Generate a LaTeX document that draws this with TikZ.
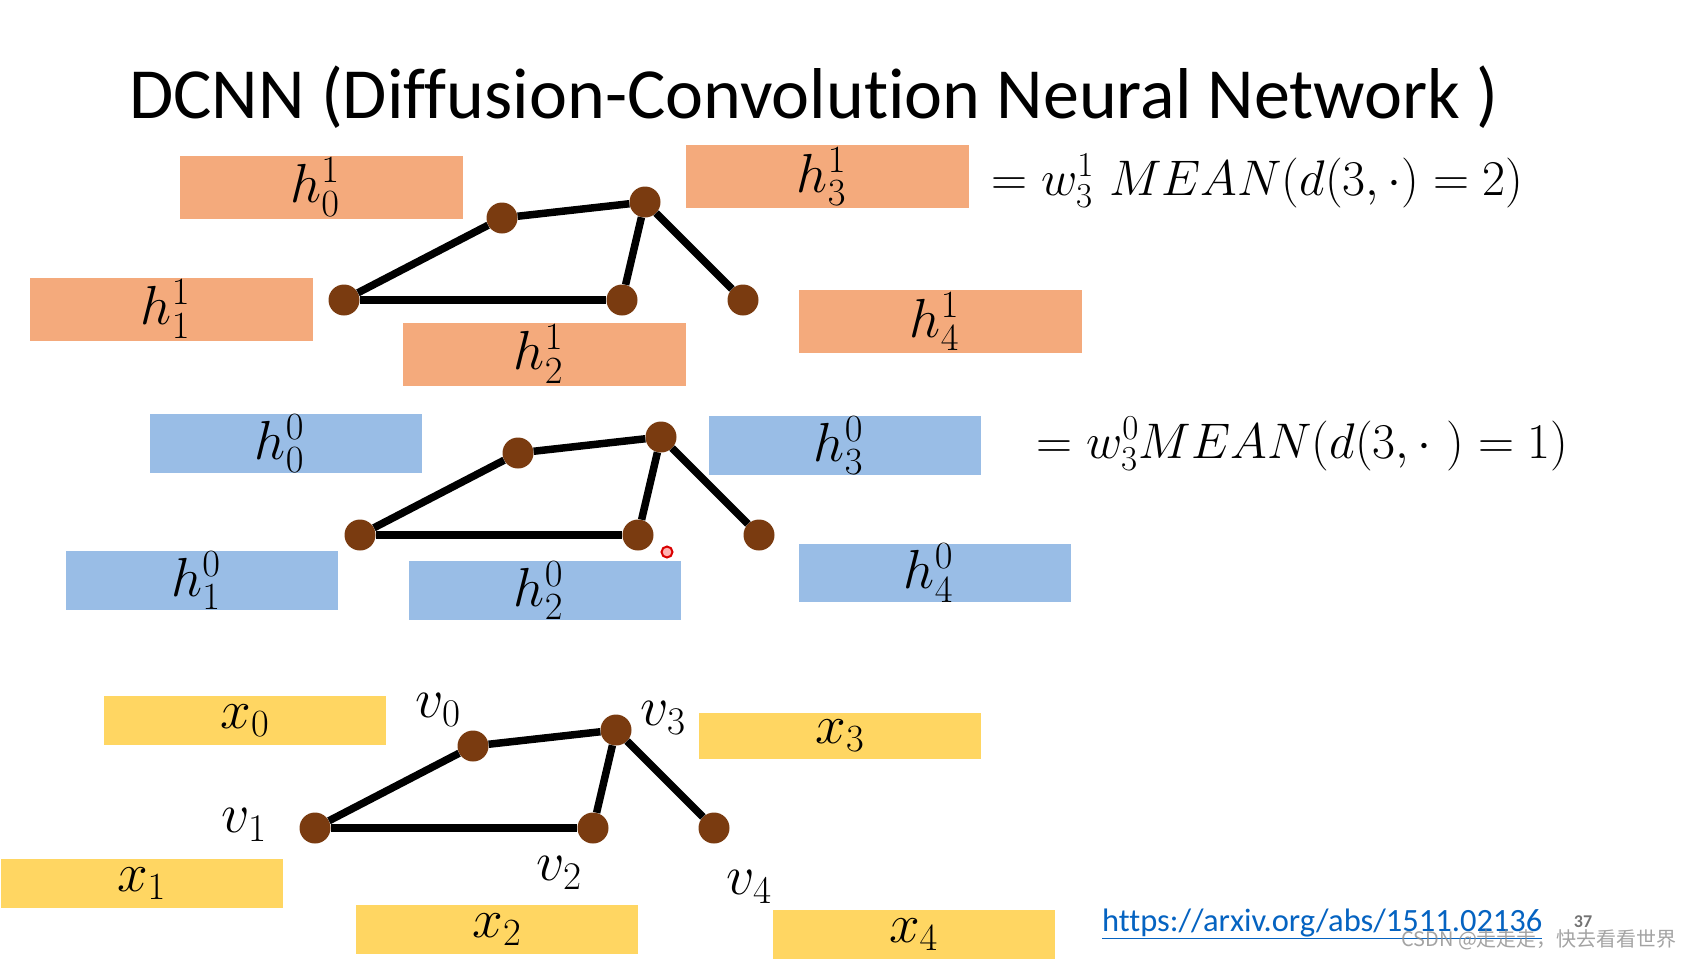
\RequirePackage{fix-cm}
\documentclass[tikz,border=0pt]{standalone}
\usepackage{fontspec}
\newfontfamily\calibri[Ligatures=NoCommon]{Carlito}
\newfontfamily\cjk{Noto Sans CJK SC}
\definecolor{boxorange}{HTML}{F4AA7C}
\definecolor{boxblue}{HTML}{99BDE6}
\definecolor{boxyellow}{HTML}{FFD662}
\definecolor{nodebrown}{HTML}{7A3B10}
\definecolor{linkblue}{HTML}{0563C1}
\newcommand\mygraph[3]{%
  \begin{scope}[shift={(#2,#3)}]
    \node[vert] (#1n0) at (502,218) {};
    \node[vert] (#1n3) at (645,202) {};
    \node[vert] (#1n1) at (344,300) {};
    \node[vert] (#1n2) at (622,300) {};
    \node[vert] (#1n4) at (743,300) {};
    \draw[gedge] (#1n1) -- (#1n0);
    \draw[gedge] (#1n0) -- (#1n3);
    \draw[gedge] (#1n1) -- (#1n2);
    \draw[gedge] (#1n2) -- (#1n3);
    \draw[gedge] (#1n3) -- (#1n4);
  \end{scope}}
\begin{document}
\begin{tikzpicture}[x=1pt,y=-1pt,
  basebox/.style={inner sep=0pt, font=\fontsize{55}{60}\selectfont},
  obox/.style={basebox, fill=boxorange, minimum width=283pt, minimum height=63pt},
  bbox/.style={basebox, fill=boxblue, minimum width=272pt, minimum height=57pt},
  ybox/.style={basebox, fill=boxyellow, minimum width=282pt, minimum height=49pt},
  vert/.style={circle, fill=nodebrown, minimum size=31pt, inner sep=0pt},
  gedge/.style={line width=7.5pt, black},
  vlbl/.style={inner sep=0pt, font=\fontsize{56}{60}\selectfont},
  eqn/.style={inner sep=0pt, anchor=west, font=\fontsize{50}{60}\selectfont}]
\useasboundingbox (0,0) rectangle (1686,959);

\node[inner sep=0pt, anchor=base, font=\calibri\fontsize{72}{80}\selectfont] (title) at (814,118)
  {DCNN (Diffusion-Convolution Neural Network )};

% orange boxes
\node[obox] (h01) at (321,187) {$h_0^1$\hspace*{12pt}};
\node[obox] (h31) at (827.5,176.5) {$h_3^1$\hspace*{12pt}};
\node[obox] (h11) at (171.5,309) {$h_1^1$\hspace*{12pt}};
\node[obox] (h21) at (544.5,354) {$h_2^1$\hspace*{12pt}};
\node[obox] (h41) at (940.5,321.5) {$h_4^1$\hspace*{12pt}};

% blue boxes
\node[bbox] (h00) at (285.5,443.5) {$h_0^0$\hspace*{12pt}};
\node[bbox] (h30) at (844.5,445.5) {$h_3^0$\hspace*{12pt}};
\node[bbox] (h10) at (202,580.5) {$h_1^0$\hspace*{12pt}};
\node[bbox] (h20) at (544.5,590.5) {$h_2^0$\hspace*{12pt}};
\node[bbox] (h40) at (934.5,573) {$h_4^0$\hspace*{12pt}};

% yellow boxes
\node[ybox] (x0) at (245,720.5) {$x_0$};
\node[ybox, minimum height=46pt] (x3) at (840,736) {$x_3$};
\node[ybox] (x1) at (141.5,883.5) {$x_1$};
\node[ybox] (x2) at (497,929.5) {$x_2$};
\node[ybox] (x4) at (913.5,934.5) {$x_4$};

% graphs
\mygraph{a}{0}{0}
\mygraph{b}{16}{235}
\mygraph{c}{-29}{528}

% vertex labels
\node[vlbl] (v0) at (438,710) {$v_0$};
\node[vlbl] (v3) at (663,718) {$v_3$};
\node[vlbl] (v1) at (244,825) {$v_1$};
\node[vlbl] (v2) at (559,873) {$v_2$};
\node[vlbl] (v4) at (749,887) {$v_4$};

% equations
\node[eqn] (eq1) at (991,181) {$=w_3^1\ MEAN(d(3,\cdot)=2)$};
\node[eqn] (eq2) at (1036,444) {$=w_3^0MEAN(d(3,\cdot\ )=1)$};

% link and page number
\node[inner sep=0pt, anchor=base west, text=linkblue, font=\calibri\fontsize{32.5}{36}\selectfont] (link) at (1102,931)
  {\underline{https://arxiv.org/abs/1511.02136}};
\node[inner sep=0pt, text=black!55, font=\calibri\bfseries\fontsize{18}{20}\selectfont] (pnum) at (1583,922) {37};
\node[inner sep=0pt, anchor=west, text=black!45, opacity=0.8, font=\cjk\fontsize{20}{22}\selectfont] (wm) at (1401,940)
  {CSDN @走走走，快去看看世界};

% laser pointer
\node[circle, draw=red!85!black, fill=red!30, line width=2pt, minimum size=11pt, inner sep=0pt] (laser) at (667,552) {};
\end{tikzpicture}
\end{document}
